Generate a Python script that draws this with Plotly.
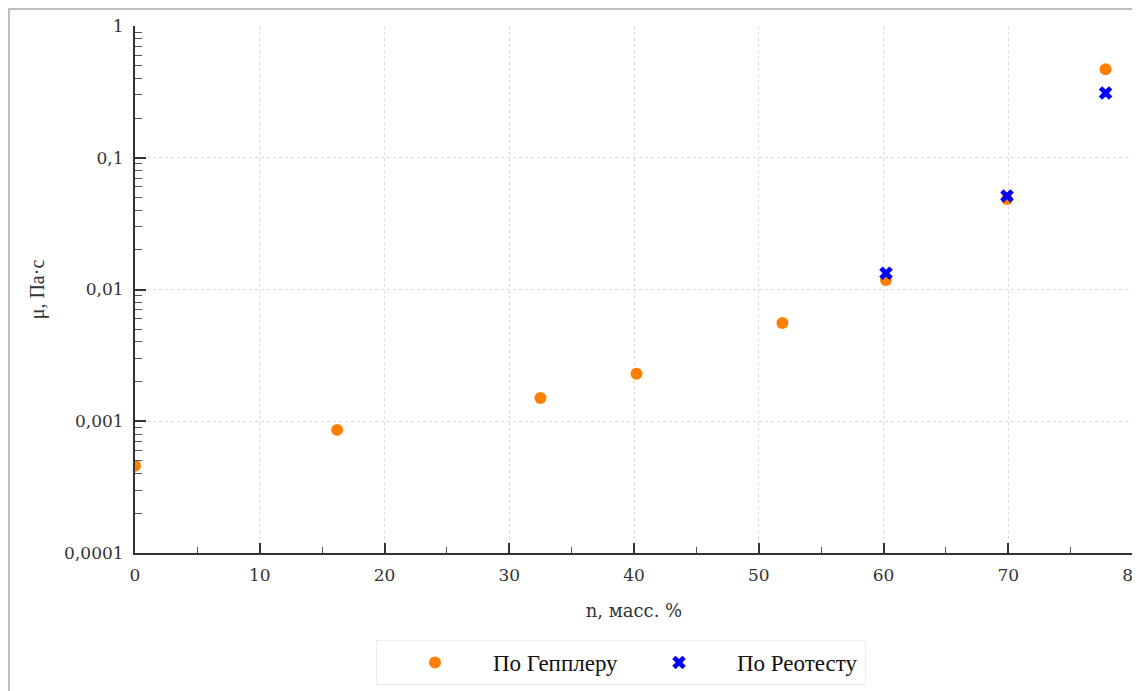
import plotly.graph_objects as go

# ---- data ----
x_heppler = [0.0, 16.2, 32.5, 40.2, 51.9, 60.2, 69.9, 77.8]
y_heppler = [0.00046, 0.00086, 0.0015, 0.00229, 0.00557, 0.0118, 0.0486, 0.47]
x_rheotest = [60.2, 69.9, 77.8]
y_rheotest = [0.0133, 0.0513, 0.31]
name_heppler = "По Гепплеру"
name_rheotest = "По Реотесту"
x_title = "n, масс. %"
y_title = "μ, Па·с"
y_tickvals = [0.0001, 0.001, 0.01, 0.1, 1]
y_ticktext = ["0,0001", "0,001", "0,01", "0,1", "1"]
x_tickvals = [0, 10, 20, 30, 40, 50, 60, 70, 80]

W, H = 1140, 691
OFF = 8  # page offset of the figure in the browser window
L, R, T, B = 127, 15, 18, 146
PW, PH = W - L - R, H - T - B


def sx(p):  # screen pixel -> paper x
    return (p - OFF - L) / PW


def sy(p):  # screen pixel -> paper y
    return (H - B - (p - OFF)) / PH


fig = go.Figure()
fig.add_trace(go.Scatter(
    x=x_heppler, y=y_heppler, mode="markers", name=name_heppler,
    marker=dict(symbol="circle", size=12, color="#ff8000", line=dict(width=0)),
))
fig.add_trace(go.Scatter(
    x=x_rheotest, y=y_rheotest, mode="markers", name=name_rheotest,
    marker=dict(symbol="x", size=12, color="#0000ff", line=dict(width=0)),
))

shapes = [dict(type="rect", xref="paper", yref="paper", layer="below",
               x0=sx(10), x1=sx(W + 40), y0=sy(H + 40), y1=sy(10),
               fillcolor="#ffffff", line=dict(width=0))]

serif_tick = "DejaVu Serif"
fig.update_layout(
    width=W, height=H,
    margin=dict(l=L, r=R, t=T, b=B, autoexpand=False),
    paper_bgcolor="#bdbdbd",
    plot_bgcolor="rgba(0,0,0,0)",
    separators=", ",
    shapes=shapes,
    showlegend=True,
    legend=dict(
        orientation="h", x=sx(376), xanchor="left", y=sy(640), yanchor="top",
        bgcolor="#ffffff", bordercolor="#ececec", borderwidth=1,
        font=dict(family="Liberation Serif", size=23, color="#111111"),
        itemwidth=106, entrywidth=123, traceorder="normal",
    ),
    xaxis=dict(
        range=[0, 80], tickmode="array", tickvals=x_tickvals,
        showline=True, linecolor="#333333", linewidth=2, mirror=False,
        ticks="inside", ticklen=10, tickwidth=2, tickcolor="#333333",
        tickfont=dict(family=serif_tick, size=17, color="#333333"),
        ticklabelstandoff=6,
        showgrid=True, gridcolor="#dadada", gridwidth=1, griddash="dot",
        zeroline=False,
        minor=dict(tickmode="array", tickvals=[5, 15, 25, 35, 45, 55, 65, 75],
                   ticks="inside", ticklen=6, tickwidth=1, tickcolor="#555555",
                   showgrid=False),
        title=dict(text=x_title, standoff=20,
                   font=dict(family=serif_tick, size=18, color="#333333")),
    ),
    yaxis=dict(
        type="log", range=[-4, 0], tickmode="array", tickvals=y_tickvals, ticktext=y_ticktext,
        showline=True, linecolor="#333333", linewidth=2,
        ticks="inside", ticklen=11, tickwidth=2, tickcolor="#333333",
        tickfont=dict(family=serif_tick, size=17, color="#333333"),
        ticklabelstandoff=6,
        showgrid=True, gridcolor="#dadada", gridwidth=1, griddash="dot",
        zeroline=False,
        minor=dict(tickmode="array",
                   tickvals=[k * 10.0 ** d for d in range(-4, 0) for k in range(2, 10)],
                   ticks="inside", ticklen=7, tickwidth=1, tickcolor="#555555",
                   showgrid=False),
        title=dict(text=y_title, standoff=14,
                   font=dict(family="Liberation Serif", size=20, color="#333333")),
    ),
)

fig.write_html("out.html")
